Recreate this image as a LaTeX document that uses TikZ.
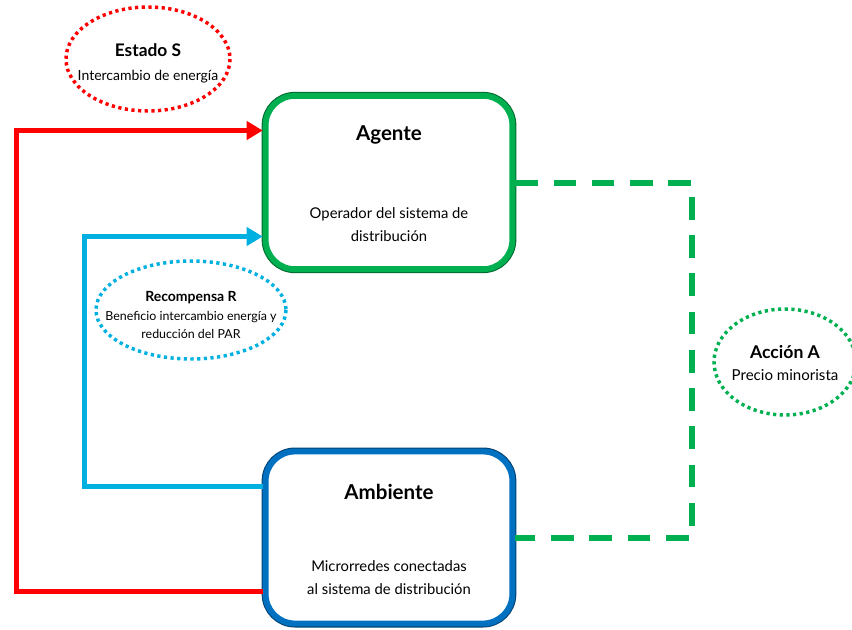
\documentclass[tikz,border=0pt]{standalone}
\usepackage{fontspec}
\setmainfont{Lato}
\usetikzlibrary{shapes.geometric,arrows.meta,calc,positioning}
\definecolor{agentgreen}{RGB}{0,176,80}
\definecolor{envblue}{RGB}{0,112,192}
\definecolor{rewardcyan}{RGB}{0,176,225}
\definecolor{statered}{RGB}{255,0,0}
\begin{document}
\begin{tikzpicture}[x=0.75pt,y=-0.75pt,
  box/.style={rectangle,rounded corners=22pt,minimum width=185pt,minimum height=130pt,fill=white,line width=4.4pt},
  cloud/.style={line width=2.6pt,dash pattern=on 2.4pt off 2.6pt},
  feed/.style={line width=3.8pt,-{Triangle[length=12pt,width=13.5pt]}},
  title/.style={font=\fontsize{15.4}{18}\selectfont\bfseries},
  body/.style={font=\fontsize{11.1}{17.5}\selectfont,align=center}]
\useasboundingbox (0,0) rectangle (852,629);

% Agent box (top)
\node[box,draw=agentgreen,preaction={draw=agentgreen!60!black,line width=6pt}] (agt) at (389,182.5) {};
\node[title] (agtTitle) at ($(agt.center)+(0,-48)$) {Agente};
\node[body] (agtText) at ($(agt.center)+(0,42)$) {Operador del sistema de\\distribución};

% Environment box (bottom)
\node[box,draw=envblue,minimum height=129pt,preaction={draw=envblue!60!black,line width=6pt}] (amb) at (389,537.5) {};
\node[title] (ambTitle) at ($(amb.center)+(0,-46)$) {Ambiente};
\node[body] (ambText) at ($(amb.center)+(0,40)$) {Microrredes conectadas\\al sistema de distribución};

% State loop (red) and reward loop (cyan)
\draw[feed,statered] ($(amb.west)+(0,54)$) -- ++(-246,0) |- ($(agt.west)+(0,-52)$);
\draw[feed,rewardcyan] ($(amb.west)+(0,-51)$) -- ++(-178,0) |- ($(agt.west)+(0,54)$);

% Action path (dashed)
\draw[agentgreen,line width=4.5pt,dash pattern=on 17pt off 11.7pt] (agt.east) -- ++(177,0) |- (amb.east);

% Labels (dotted ellipses)
\node[align=center,font=\fontsize{10.5}{18}\selectfont] (estado) at (148,63)
  {{\fontsize{13}{18}\selectfont\bfseries Estado S}\\Intercambio de energía};
\draw[cloud,statered] (148,59) ellipse [x radius=82, y radius=52];

\node[align=center,font=\fontsize{9.3}{14}\selectfont] (recomp) at (191,315)
  {{\fontsize{10.5}{14}\selectfont\bfseries Recompensa R}\\Beneficio intercambio energía y\\reducción del PAR};
\draw[cloud,rewardcyan] (191,310) ellipse [x radius=95, y radius=49];

\node[align=center,font=\fontsize{11.3}{17}\selectfont] (accion) at (785,363)
  {{\fontsize{13.2}{17}\selectfont\bfseries Acción A}\\Precio minorista};
\draw[cloud,agentgreen] (785,362) ellipse [x radius=71, y radius=53];
\end{tikzpicture}
\end{document}
